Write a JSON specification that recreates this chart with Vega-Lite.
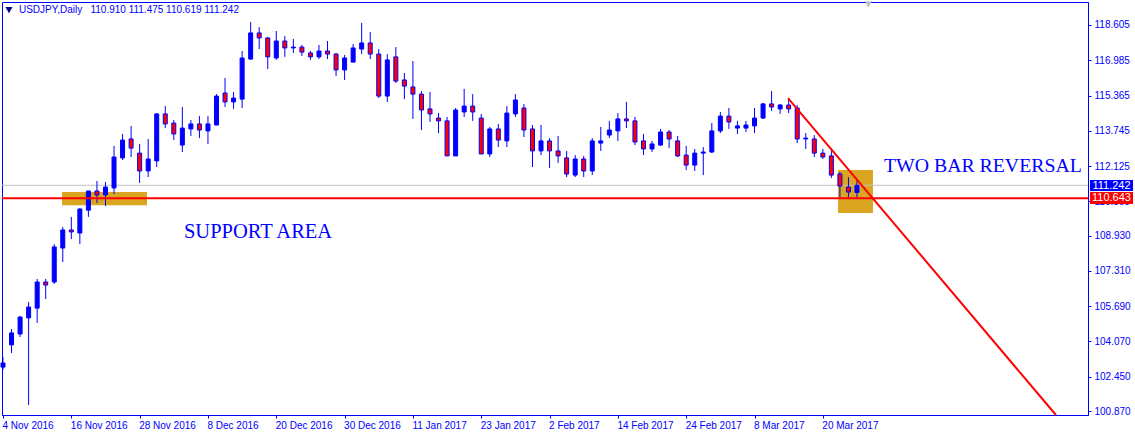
{"$schema":"https://vega.github.io/schema/vega-lite/v6.json","width":1086,"height":413,"autosize":"none","padding":{"left":2,"top":2,"right":47,"bottom":21},"background":"#ffffff","config":{"view":{"stroke":"#0000ff","strokeWidth":1},"font":"Liberation Sans"},
"datasets":{"candles":[
{"i":0,"open":102.89,"high":103.35,"low":102.76,"close":103.08},
{"i":1,"open":103.91,"high":104.64,"low":103.54,"close":104.46},
{"i":2,"open":104.41,"high":105.24,"low":104.27,"close":105.19},
{"i":3,"open":105.15,"high":105.88,"low":101.15,"close":105.65},
{"i":4,"open":105.60,"high":106.94,"low":104.92,"close":106.80},
{"i":5,"open":106.80,"high":106.94,"low":106.02,"close":106.66},
{"i":6,"open":106.80,"high":108.54,"low":106.71,"close":108.41},
{"i":7,"open":108.36,"high":109.33,"low":107.72,"close":109.19},
{"i":8,"open":109.19,"high":109.79,"low":108.77,"close":109.10},
{"i":9,"open":109.05,"high":110.20,"low":108.54,"close":110.15},
{"i":10,"open":110.10,"high":110.98,"low":109.79,"close":110.98},
{"i":11,"open":110.98,"high":111.44,"low":110.43,"close":110.80},
{"i":12,"open":110.80,"high":111.39,"low":110.29,"close":111.16},
{"i":13,"open":111.12,"high":113.05,"low":110.84,"close":112.54},
{"i":14,"open":112.50,"high":113.60,"low":112.40,"close":113.32},
{"i":15,"open":113.37,"high":113.97,"low":112.54,"close":112.95},
{"i":16,"open":112.72,"high":113.14,"low":111.35,"close":111.90},
{"i":17,"open":111.90,"high":113.37,"low":111.62,"close":112.45},
{"i":18,"open":112.36,"high":114.56,"low":112.08,"close":114.52},
{"i":19,"open":114.52,"high":114.88,"low":113.87,"close":114.06},
{"i":20,"open":114.10,"high":114.24,"low":113.32,"close":113.60},
{"i":21,"open":113.09,"high":114.84,"low":112.77,"close":113.87},
{"i":22,"open":113.83,"high":114.24,"low":113.51,"close":114.06},
{"i":23,"open":114.06,"high":114.42,"low":113.41,"close":113.78},
{"i":24,"open":113.74,"high":114.42,"low":113.14,"close":114.06},
{"i":25,"open":114.01,"high":115.43,"low":114.01,"close":115.34},
{"i":26,"open":115.48,"high":116.17,"low":114.84,"close":115.07},
{"i":27,"open":115.07,"high":115.53,"low":114.75,"close":115.25},
{"i":28,"open":115.20,"high":117.41,"low":114.79,"close":117.09},
{"i":29,"open":117.04,"high":118.74,"low":117.00,"close":118.24},
{"i":30,"open":118.24,"high":118.51,"low":117.50,"close":118.01},
{"i":31,"open":118.01,"high":118.05,"low":116.58,"close":117.14},
{"i":32,"open":117.09,"high":118.33,"low":117.00,"close":117.87},
{"i":33,"open":117.87,"high":118.10,"low":117.14,"close":117.55},
{"i":34,"open":117.55,"high":117.96,"low":117.32,"close":117.59},
{"i":35,"open":117.59,"high":117.69,"low":117.18,"close":117.36},
{"i":36,"open":117.32,"high":117.41,"low":117.00,"close":117.14},
{"i":37,"open":117.14,"high":117.69,"low":117.04,"close":117.41},
{"i":38,"open":117.41,"high":117.87,"low":117.04,"close":117.27},
{"i":39,"open":117.27,"high":117.32,"low":116.26,"close":116.54},
{"i":40,"open":116.54,"high":117.23,"low":116.08,"close":117.09},
{"i":41,"open":116.90,"high":117.73,"low":116.90,"close":117.55},
{"i":42,"open":117.50,"high":118.70,"low":117.27,"close":117.78},
{"i":43,"open":117.78,"high":118.28,"low":117.04,"close":117.27},
{"i":44,"open":117.27,"high":117.50,"low":115.25,"close":115.34},
{"i":45,"open":115.34,"high":117.27,"low":115.07,"close":117.00},
{"i":46,"open":117.14,"high":117.59,"low":115.94,"close":116.03},
{"i":47,"open":116.08,"high":116.40,"low":115.20,"close":115.80},
{"i":48,"open":115.76,"high":116.95,"low":114.29,"close":115.43},
{"i":49,"open":115.43,"high":115.57,"low":113.78,"close":114.70},
{"i":50,"open":114.75,"high":115.53,"low":114.15,"close":114.52},
{"i":51,"open":114.33,"high":114.56,"low":113.64,"close":114.20},
{"i":52,"open":114.20,"high":114.38,"low":112.59,"close":112.59},
{"i":53,"open":112.59,"high":114.79,"low":112.59,"close":114.70},
{"i":54,"open":114.61,"high":115.67,"low":114.38,"close":114.88},
{"i":55,"open":114.88,"high":115.43,"low":114.20,"close":114.61},
{"i":56,"open":114.33,"high":114.52,"low":112.68,"close":112.68},
{"i":57,"open":112.68,"high":113.92,"low":112.54,"close":113.83},
{"i":58,"open":113.83,"high":114.06,"low":113.00,"close":113.32},
{"i":59,"open":113.28,"high":114.88,"low":113.00,"close":114.56},
{"i":60,"open":114.52,"high":115.43,"low":114.38,"close":115.16},
{"i":61,"open":114.79,"high":114.98,"low":113.46,"close":113.78},
{"i":62,"open":113.83,"high":114.01,"low":112.08,"close":112.82},
{"i":63,"open":112.82,"high":114.01,"low":112.63,"close":113.28},
{"i":64,"open":113.28,"high":113.41,"low":112.04,"close":112.82},
{"i":65,"open":112.82,"high":113.51,"low":112.27,"close":112.59},
{"i":66,"open":112.50,"high":112.82,"low":111.62,"close":111.76},
{"i":67,"open":111.71,"high":112.63,"low":111.62,"close":112.45},
{"i":68,"open":112.45,"high":112.59,"low":111.62,"close":111.90},
{"i":69,"open":111.90,"high":113.41,"low":111.71,"close":113.28},
{"i":70,"open":113.18,"high":113.92,"low":112.82,"close":113.28},
{"i":71,"open":113.55,"high":114.20,"low":113.41,"close":113.78},
{"i":72,"open":113.74,"high":114.56,"low":113.28,"close":114.29},
{"i":73,"open":114.29,"high":115.07,"low":113.87,"close":114.20},
{"i":74,"open":114.20,"high":114.38,"low":113.09,"close":113.23},
{"i":75,"open":113.28,"high":113.60,"low":112.63,"close":112.91},
{"i":76,"open":112.91,"high":113.28,"low":112.77,"close":113.14},
{"i":77,"open":113.09,"high":113.83,"low":113.05,"close":113.69},
{"i":78,"open":113.69,"high":113.78,"low":112.95,"close":113.37},
{"i":79,"open":113.28,"high":113.51,"low":112.54,"close":112.59},
{"i":80,"open":112.63,"high":113.05,"low":111.94,"close":112.17},
{"i":81,"open":112.17,"high":112.91,"low":111.90,"close":112.72},
{"i":82,"open":112.72,"high":113.00,"low":111.71,"close":112.77},
{"i":83,"open":112.77,"high":114.10,"low":112.72,"close":113.74},
{"i":84,"open":113.74,"high":114.61,"low":113.64,"close":114.42},
{"i":85,"open":114.42,"high":114.79,"low":113.83,"close":114.15},
{"i":86,"open":113.87,"high":114.20,"low":113.60,"close":113.97},
{"i":87,"open":113.87,"high":114.20,"low":113.69,"close":114.01},
{"i":88,"open":113.97,"high":114.79,"low":113.64,"close":114.33},
{"i":89,"open":114.33,"high":115.02,"low":114.29,"close":114.98},
{"i":90,"open":114.98,"high":115.57,"low":114.65,"close":114.84},
{"i":91,"open":114.75,"high":114.98,"low":114.52,"close":114.93},
{"i":92,"open":114.93,"high":115.25,"low":114.56,"close":114.75},
{"i":93,"open":114.79,"high":114.93,"low":113.18,"close":113.37},
{"i":94,"open":113.37,"high":113.64,"low":112.91,"close":113.41},
{"i":95,"open":113.37,"high":113.55,"low":112.54,"close":112.72},
{"i":96,"open":112.72,"high":112.91,"low":112.45,"close":112.54},
{"i":97,"open":112.59,"high":112.86,"low":111.58,"close":111.71},
{"i":98,"open":111.76,"high":111.85,"low":110.70,"close":111.21},
{"i":99,"open":111.16,"high":111.62,"low":110.70,"close":110.93},
{"i":100,"open":110.91,"high":111.475,"low":110.619,"close":111.242}
],
"zones":[{"i":6.91,"i2":16.86,"top":110.93,"bottom":110.33},{"i":97.78,"i2":101.87,"top":111.94,"bottom":109.97}],
"trend":[{"i":91.92,"price":115.25},{"i":123.3,"price":100.69}],
"tags":[{"i":127.28,"i2":132.32,"top":111.49,"bottom":110.98,"kind":"close","value":111.242,"mid":129.8},{"i":127.28,"i2":132.32,"top":110.93,"bottom":110.38,"kind":"support","value":110.643,"mid":129.8}],
"notes":[{"i":21.19,"price":109.10,"label":"SUPPORT AREA"},{"i":103.16,"price":112.13,"label":"TWO BAR REVERSAL"}],
"header":[{"i":1.87,"price":119.29,"label":"USDJPY,Daily\u00a0\u00a0\u00a0110.910 111.475 110.619 111.242"}],
"markers":[{"i":0.7,"price":119.29,"kind":"symbol"},{"i":101.33,"price":119.55,"kind":"shift"}]
},
"encoding":{
"x":{"field":"i","type":"quantitative","scale":{"domain":[-0.117,127.05],"nice":false,"zero":false,"padding":0},"axis":{"title":null,"grid":false,"values":[0,8,16,24,32,40,48,56,64,72,80,88,96],"labelExpr":"['4 Nov 2016','16 Nov 2016','28 Nov 2016','8 Dec 2016','20 Dec 2016','30 Dec 2016','11 Jan 2017','23 Jan 2017','2 Feb 2017','14 Feb 2017','24 Feb 2017','8 Mar 2017','20 Mar 2017'][datum.value/8]","labelAlign":"left","labelFlush":false,"labelOverlap":false,"labelColor":"#0000ff","labelFontSize":10,"labelFont":"Liberation Sans","labelPadding":2,"labelOffset":-1,"tickColor":"#0000ff","tickSize":3,"domainColor":"#0000ff"}},
"y":{"type":"quantitative","scale":{"domain":[100.69,119.661],"nice":false,"zero":false},"axis":{"title":null,"orient":"right","grid":false,"values":[118.605,116.985,115.365,113.745,112.125,110.505,108.93,107.31,105.69,104.07,102.45,100.87],"format":".3f","labelOverlap":false,"labelColor":"#0000ff","labelFontSize":10,"labelFont":"Liberation Sans","labelPadding":3,"tickColor":"#0000ff","tickSize":3,"domainColor":"#0000ff"}}
},
"layer":[
{"data":{"name":"zones"},"mark":{"type":"rect","color":"#daa520"},"encoding":{"x":{"field":"i","type":"quantitative"},"x2":{"field":"i2"},"y":{"field":"top","type":"quantitative"},"y2":{"field":"bottom"}}},
{"data":{"name":"tags"},"transform":[{"filter":"datum.kind=='close'"}],"mark":{"type":"rule","color":"#c0c0c0","strokeWidth":1},"encoding":{"x":{"value":0},"x2":{"value":1086},"y":{"field":"value","type":"quantitative"}}},
{"data":{"name":"candles"},"mark":{"type":"rule","color":"#0000ff","strokeWidth":1},"encoding":{"y":{"field":"high","type":"quantitative"},"y2":{"field":"low"}}},
{"data":{"name":"candles"},"mark":{"type":"bar","width":4,"stroke":"#0000ff","strokeWidth":1},"encoding":{"y":{"field":"open","type":"quantitative"},"y2":{"field":"close"},"color":{"condition":{"test":"datum.close>datum.open","value":"#0000ff"},"value":"#ff0000"}}},
{"data":{"name":"tags"},"transform":[{"filter":"datum.kind=='support'"}],"mark":{"type":"rule","color":"#ff0000","strokeWidth":2},"encoding":{"x":{"value":0},"x2":{"value":1086},"y":{"field":"value","type":"quantitative"}}},
{"data":{"name":"trend"},"mark":{"type":"line","color":"#ff0000","strokeWidth":2},"encoding":{"y":{"field":"price","type":"quantitative"}}},
{"data":{"name":"tags"},"mark":{"type":"rect"},"encoding":{"x":{"field":"i","type":"quantitative"},"x2":{"field":"i2"},"y":{"field":"top","type":"quantitative"},"y2":{"field":"bottom"},"color":{"field":"kind","type":"nominal","scale":{"domain":["close","support"],"range":["#0000ff","#ff0000"]},"legend":null}}},
{"data":{"name":"tags"},"mark":{"type":"text","color":"#ffffff","font":"Liberation Sans","fontSize":11,"align":"center","baseline":"middle"},"encoding":{"x":{"field":"mid","type":"quantitative"},"y":{"field":"top","type":"quantitative"},"yOffset":{"value":6},"text":{"field":"value","type":"quantitative","format":".3f"}}},
{"data":{"name":"notes"},"transform":[{"filter":"datum.label=='SUPPORT AREA'"}],"mark":{"type":"text","color":"#0000ff","font":"Liberation Serif","fontSize":20.5,"align":"left","baseline":"middle"},"encoding":{"y":{"field":"price","type":"quantitative"},"text":{"field":"label"}}},
{"data":{"name":"notes"},"transform":[{"filter":"datum.label!='SUPPORT AREA'"}],"mark":{"type":"text","color":"#0000ff","font":"Liberation Serif","fontSize":19.8,"align":"left","baseline":"middle"},"encoding":{"y":{"field":"price","type":"quantitative"},"text":{"field":"label"}}},
{"data":{"name":"header"},"mark":{"type":"text","color":"#0000ff","font":"Liberation Sans","fontSize":10,"align":"left","baseline":"middle"},"encoding":{"y":{"field":"price","type":"quantitative"},"text":{"field":"label"}}},
{"data":{"name":"markers"},"mark":{"type":"point","shape":"triangle-down","filled":true,"size":50,"opacity":1},"encoding":{"y":{"field":"price","type":"quantitative"},"color":{"field":"kind","type":"nominal","scale":{"domain":["symbol","shift"],"range":["#000080","#c0c0c0"]},"legend":null}}}
],
"resolve":{"scale":{"color":"independent"}}
}
